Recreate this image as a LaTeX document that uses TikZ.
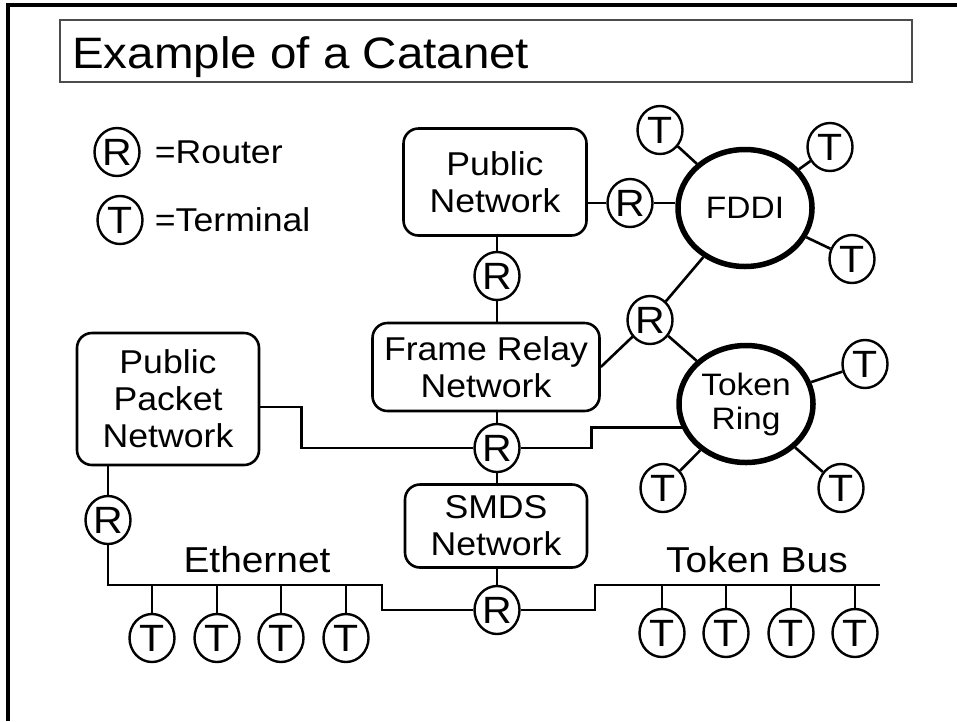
\documentclass[tikz,border=0pt]{standalone}
\usepackage{fontspec}
\setmainfont{Liberation Sans}[FakeStretch=1.08]
\usetikzlibrary{shapes,positioning}

\begin{document}
\begin{tikzpicture}[x=1pt,y=-1pt,
    router/.style={ellipse, draw, line width=2.4, inner sep=0, minimum width=45, minimum height=48, font=\fontsize{38}{38}\selectfont},
    term/.style={router},
    net/.style={draw, rounded corners=15, line width=2.6, align=center, inner sep=0, font=\fontsize{33}{37}\selectfont},
    ring/.style={ellipse, draw, line width=5.5, inner sep=0, minimum width=134, minimum height=117, align=center, font=\fontsize{31}{34}\selectfont},
    lbl/.style={inner sep=0, font=\fontsize{36}{40}\selectfont},
    wire/.style={line width=2.6}]

    \useasboundingbox (0,0) rectangle (957,721);

    % Frame
    \draw[line width=3.5] (8,721) -- (8,5) -- (957,5);

    % Title
    \draw[black!70, line width=1.5] (60,20) rectangle (912,82);
    \node[anchor=base west, inner sep=0, font=\fontsize{44}{50}\selectfont] (title) at (72,68) {Example of a Catanet};

    % Legend
    \node[router] (keyr) at (117,152) {R};
    \node[lbl, font=\fontsize{33}{37}\selectfont, right=14pt of keyr] (keyrtxt) {=Router};
    \node[term] (keyt) at (120,220) {T};
    \node[lbl, font=\fontsize{33}{37}\selectfont, right=11pt of keyt] (keyttxt) {=Terminal};

    % Networks
    \node[net, minimum width=183, minimum height=107] (pn) at (495,182) {Public\\Network};
    \node[net, minimum width=227, minimum height=88] (fr) at (486,367) {Frame Relay\\Network};
    \node[net, minimum width=182, minimum height=132] (ppn) at (168,399) {Public\\Packet\\Network};
    \node[net, minimum width=182, minimum height=83] (smds) at (496,526) {SMDS\\Network};
    \node[ring] (fddi) at (745,208) {FDDI};
    \node[ring] (tr) at (746,404) {Token\\Ring};

    % Routers
    \node[router] (r1) at (630,203) {R};
    \node[router] (r2) at (497,276) {R};
    \node[router] (r3) at (650,320) {R};
    \node[router] (r4) at (497,448) {R};
    \node[router] (r5) at (108,520) {R};
    \node[router] (r6) at (497,610) {R};

    % Links
    \draw[wire] (pn.east |- r1) -- (r1) -- (r1 -| fddi.west);
    \draw[wire] (r2) -- (r2 |- pn.south) (r2) -- (r2 |- fr.north);
    \draw[wire] (r3) -- (fddi) (r3) -- (fr.east) (r3) -- (tr);
    \draw[wire] (r4) -- (r4 |- fr.south) (r4) -- (r4 |- smds.north);
    \draw[wire] ([yshift=-8pt]ppn.east) -- ++(41,0) |- (r4);
    \draw[wire] (r4) -| ([xshift=-90pt]tr.200) -- (tr.200);
    \draw[wire] (r5) -- (r5 |- ppn.south);
    \draw[wire] (r6) -- (r6 |- smds.south);

    % Ethernet
    \coordinate (eth-w) at (108,585);
    \coordinate (eth-e) at (382,585);
    \draw[wire] (r5) -- (eth-w) -- (eth-e) |- (r6);
    \node[lbl, anchor=base] (eth) at (257,572) {Ethernet};
    \foreach \x [count=\i] in {152,217,281,346} {
        \node[term] (te\i) at (\x,638) {T};
        \draw[wire] (te\i) -- (te\i |- eth-w);
    }

    % Token Bus
    \coordinate (bus-w) at (595,585);
    \coordinate (bus-e) at (880,585);
    \draw[wire] (r6) -| (bus-w) -- (bus-e);
    \node[lbl, anchor=base] (bus) at (757,572) {Token Bus};
    \foreach \x [count=\i] in {662,726,791,855} {
        \node[term] (tb\i) at (\x,633) {T};
        \draw[wire] (tb\i) -- (tb\i |- bus-w);
    }

    % Ring terminals
    \foreach \x/\y [count=\i] in {660/130,830/147,852/259} {
        \node[term] (tf\i) at (\x,\y) {T};
        \draw[wire] (tf\i) -- (fddi);
    }
    \foreach \x/\y [count=\i] in {865/364,663/488,841/488} {
        \node[term] (tt\i) at (\x,\y) {T};
        \draw[wire] (tt\i) -- (tr);
    }
\end{tikzpicture}
\end{document}
